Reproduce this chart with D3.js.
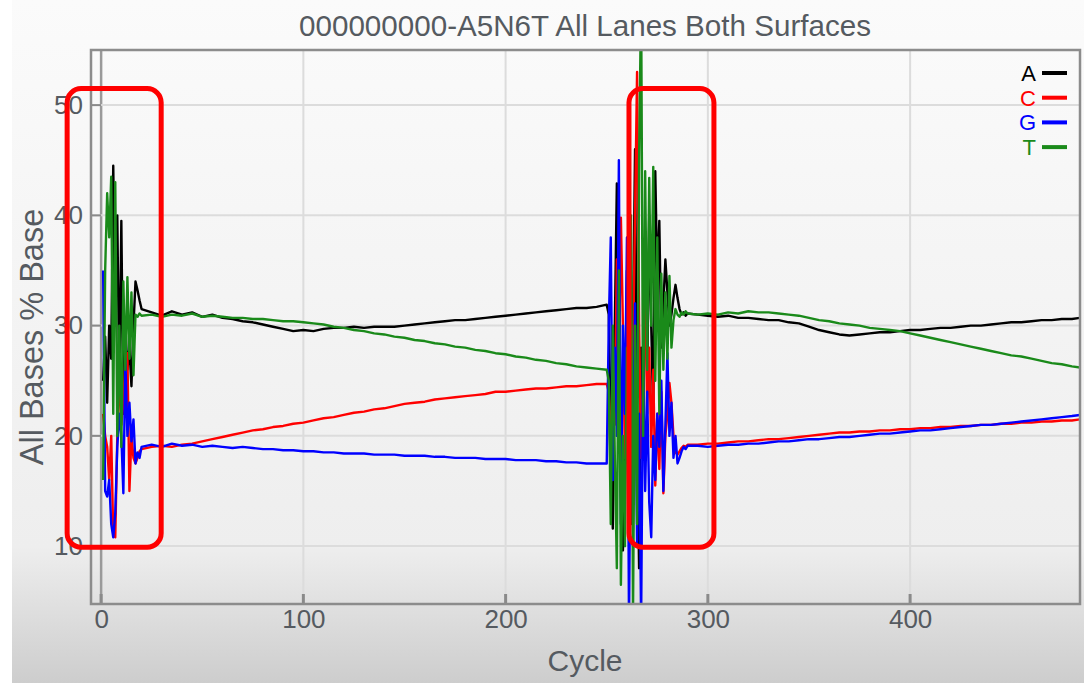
<!DOCTYPE html>
<html>
<head>
<meta charset="utf-8">
<script src="https://cdn.jsdelivr.net/npm/d3@7"></script>
<style>
  html, body { margin: 0; padding: 0; background: #fff; }
  svg { display: block; }
</style>
</head>
<body>
<div id="chart"></div>
<script>
// cycles: 1-20 every cycle, 25-250 every 5, 251-290 every cycle, 295-480 every 5, then 484
const cycles = [].concat(
    d3.range(1, 21),
    d3.range(25, 251, 5),
    d3.range(251, 291),
    d3.range(295, 481, 5),
    [484]
);

const baseA = [
    25, 29, 23, 30, 27, 44.5, 30, 40, 24, 39.5, 22, 30, 26, 28, 24.5, 30, 34, 33.2, 32.3, 31.5,
    31.2, 30.9, 31.3, 31.0, 31.2, 30.8, 31.0, 30.7, 30.6, 30.4, 30.3, 30.1, 29.9, 29.7, 29.5, 29.6,
    29.5, 29.7, 29.8, 29.8, 29.9, 29.8, 29.9, 29.9, 29.9, 30.0, 30.1, 30.2, 30.3, 30.4, 30.5, 30.5,
    30.6, 30.7, 30.8, 30.9, 31.0, 31.1, 31.2, 31.3, 31.4, 31.5, 31.6, 31.6, 31.7, 31.9,
    31, 20, 11.6, 30, 42.9, 25, 15, 9.6, 18, 35, 22, 12, 30, 46, 20, 8, 28, 20, 36, 25,
    40, 30, 22, 44, 34, 39.5, 28, 32, 36, 33, 30, 31, 32.5, 33.7, 32.5, 31.5, 31, 31.2, 30.9, 31.1,
    31.0, 30.9, 30.8, 30.9, 30.7, 30.7, 30.6, 30.5, 30.5, 30.3, 30.2, 29.9, 29.6, 29.4, 29.2, 29.1,
    29.2, 29.3, 29.4, 29.4, 29.5, 29.6, 29.6, 29.7, 29.8, 29.8, 29.9, 30.0, 30.0, 30.1, 30.2, 30.3,
    30.3, 30.4, 30.5, 30.5, 30.6, 30.6, 30.7
];

const baseC = [
    22, 20, 19, 16, 20, 11, 10.8, 20, 26, 21, 23, 27, 27.5, 15, 20, 18, 17.5, 18, 18.6, 18.8,
    19.0, 19.1, 19.0, 19.2, 19.3, 19.5, 19.7, 19.9, 20.1, 20.3, 20.5, 20.6, 20.8, 20.9, 21.1, 21.2,
    21.4, 21.6, 21.7, 21.9, 22.1, 22.2, 22.4, 22.5, 22.7, 22.9, 23.0, 23.1, 23.3, 23.4, 23.5, 23.6,
    23.7, 23.8, 24.0, 24.0, 24.1, 24.2, 24.3, 24.3, 24.4, 24.5, 24.5, 24.6, 24.7, 24.7,
    24, 17, 28, 21, 36, 26, 39.8, 30, 18, 24, 35, 20, 28, 40, 53, 30, 18, 25, 35, 22,
    28, 19, 26, 15.5, 22, 17, 24, 14.8, 20, 22, 24.8, 23, 20, 18.5, 18.3, 18.6, 18.9, 19.1, 19.0, 19.2,
    19.2, 19.3, 19.3, 19.4, 19.5, 19.5, 19.6, 19.7, 19.7, 19.8, 19.9, 20.0, 20.1, 20.2, 20.3, 20.3,
    20.4, 20.4, 20.5, 20.5, 20.6, 20.6, 20.7, 20.7, 20.8, 20.8, 20.9, 20.9, 21.0, 21.0, 21.1, 21.1,
    21.2, 21.2, 21.3, 21.3, 21.4, 21.4, 21.5
];

const baseG = [
    35, 15, 14.5, 16, 12, 10.8, 13, 19, 22, 20, 14.8, 27, 20, 23, 19.5, 21.5, 17.5, 18.5, 18, 19,
    19.2, 19.0, 19.3, 19.1, 19.2, 19.0, 19.1, 19.0, 18.9, 19.0, 18.9, 18.8, 18.8, 18.7, 18.7, 18.6,
    18.6, 18.5, 18.5, 18.4, 18.4, 18.4, 18.3, 18.3, 18.3, 18.2, 18.2, 18.2, 18.1, 18.1, 18.0, 18.0,
    18.0, 17.9, 17.9, 17.9, 17.8, 17.8, 17.8, 17.7, 17.7, 17.6, 17.6, 17.5, 17.5, 17.5,
    30, 38, 16, 28, 20, 45, 12, 30, 22, 38, 3, 25, 18, 32, 10, 22, 3, 28, 15, 24,
    14, 10.8, 20, 16, 22, 19, 25, 15, 21, 27.5, 20, 23, 18, 20, 17.5, 18, 18.6, 19, 18.8, 19.1,
    19.1, 19.0, 19.1, 19.2, 19.2, 19.3, 19.3, 19.4, 19.5, 19.5, 19.6, 19.7, 19.7, 19.8, 19.9, 19.9,
    20.0, 20.1, 20.2, 20.2, 20.3, 20.4, 20.5, 20.5, 20.6, 20.7, 20.8, 20.9, 21.0, 21.0, 21.1, 21.2,
    21.3, 21.4, 21.5, 21.6, 21.7, 21.8, 21.9
];

const baseT = [
    16, 35, 42, 38, 43.5, 22, 43, 20, 30, 19, 34, 26, 34.4, 27, 33, 25.5, 31, 30.8, 31.1, 30.9,
    31.0, 30.8, 31.0, 30.9, 31.1, 30.8, 30.9, 30.8, 30.7, 30.7, 30.6, 30.6, 30.5, 30.4, 30.4, 30.3,
    30.2, 30.1, 29.9, 29.8, 29.6, 29.5, 29.3, 29.2, 29.0, 28.9, 28.7, 28.6, 28.4, 28.3, 28.1, 28.0,
    27.8, 27.7, 27.5, 27.4, 27.2, 27.1, 26.9, 26.8, 26.6, 26.5, 26.3, 26.2, 26.1, 26.0,
    25, 12, 30, 18, 8, 35, 6.5, 20, 10, 28, 15, 40, 4, 30, 12, 45, 60, 20, 44, 26,
    43.4, 30, 44.4, 25, 38, 22, 34.7, 26, 33, 27, 34.5, 28, 30.5, 31.5, 31, 30.8, 31.2, 31, 31.3, 31.1,
    31.0, 31.1, 31.0, 31.2, 31.1, 31.3, 31.2, 31.2, 31.1, 31.0, 30.9, 30.7, 30.5, 30.4, 30.2, 30.1,
    30.0, 29.8, 29.7, 29.6, 29.5, 29.3, 29.1, 28.9, 28.7, 28.5, 28.3, 28.1, 27.9, 27.7, 27.5, 27.3,
    27.2, 27.0, 26.8, 26.6, 26.5, 26.3, 26.2
];

const seriesNames = ['A', 'C', 'G', 'T'];
const seriesColors = ['#000000', '#ff0000', '#0000ff', '#1a8a1a'];
const seriesValues = [baseA, baseC, baseG, baseT];

const xTicks = [0, 100, 200, 300, 400];
const yTicks = [10, 20, 30, 40, 50];

// highlighted regions drawn over the chart (cycle range, % range)
const highlightCycles = [[-16.8, 29.7], [261, 303]];
const highlightPercent = [9.9, 51.5];

const chartTitle = '000000000-A5N6T All Lanes Both Surfaces';

const WIDTH = 1084, HEIGHT = 683;
const PLOT = {left: 91, right: 1080, top: 50, bottom: 604};
const FONT = '"Liberation Sans", Arial, sans-serif';
const TEXT_COLOR = '#555a60';

const svg = d3.select('#chart').append('svg')
    .attr('width', WIDTH)
    .attr('height', HEIGHT)
    .style('font-family', FONT);

const defs = svg.append('defs');
const bg = defs.append('linearGradient')
    .attr('id', 'bg-grad')
    .attr('x1', 0).attr('y1', 0).attr('x2', 0).attr('y2', 1);
bg.append('stop').attr('offset', '0%').attr('stop-color', '#fbfbfb');
bg.append('stop').attr('offset', '80%').attr('stop-color', '#eeeeee');
bg.append('stop').attr('offset', '100%').attr('stop-color', '#cdcdcd');

defs.append('clipPath').attr('id', 'plot-clip')
    .append('rect')
    .attr('x', PLOT.left).attr('y', PLOT.top)
    .attr('width', PLOT.right - PLOT.left)
    .attr('height', PLOT.bottom - PLOT.top);

svg.append('rect')
    .attr('x', 12).attr('y', 0)
    .attr('width', WIDTH - 12).attr('height', HEIGHT)
    .attr('fill', 'url(#bg-grad)');

const x = d3.scaleLinear().domain([-5, 484]).range([PLOT.left, PLOT.right]);
const y = d3.scaleLinear().domain([4.75, 55]).range([PLOT.bottom, PLOT.top]);

// grid
const grid = svg.append('g');
grid.selectAll('line.gx')
    .data(xTicks)
    .join('line')
    .attr('class', 'gx')
    .attr('x1', d => x(d)).attr('x2', d => x(d))
    .attr('y1', PLOT.top).attr('y2', PLOT.bottom)
    .attr('stroke', d => d === 0 ? '#9a9a9a' : '#dcdcdc')
    .attr('stroke-width', d => d === 0 ? 2.5 : 2);
grid.selectAll('line.gy')
    .data(yTicks)
    .join('line')
    .attr('class', 'gy')
    .attr('x1', PLOT.left).attr('x2', PLOT.right)
    .attr('y1', d => y(d)).attr('y2', d => y(d))
    .attr('stroke', '#dcdcdc')
    .attr('stroke-width', 2);

// small tick marks inside the frame
grid.selectAll('line.tx')
    .data(xTicks)
    .join('line')
    .attr('class', 'tx')
    .attr('x1', d => x(d)).attr('x2', d => x(d))
    .attr('y1', PLOT.bottom - 10).attr('y2', PLOT.bottom)
    .attr('stroke', '#8a8a8a')
    .attr('stroke-width', 3);
grid.selectAll('line.ty')
    .data(yTicks)
    .join('line')
    .attr('class', 'ty')
    .attr('x1', PLOT.left).attr('x2', x(0))
    .attr('y1', d => y(d)).attr('y2', d => y(d))
    .attr('stroke', '#8a8a8a')
    .attr('stroke-width', 2);

// series lines
const line = d3.line()
    .x((d, i) => x(cycles[i]))
    .y(d => y(d));

svg.append('g')
    .attr('clip-path', 'url(#plot-clip)')
    .attr('fill', 'none')
    .attr('stroke-linejoin', 'round')
    .selectAll('path')
    .data(seriesValues)
    .join('path')
    .attr('stroke', (d, i) => seriesColors[i])
    .attr('stroke-width', 2.4)
    .attr('d', line);

// frame
svg.append('rect')
    .attr('x', PLOT.left).attr('y', PLOT.top)
    .attr('width', PLOT.right - PLOT.left)
    .attr('height', PLOT.bottom - PLOT.top)
    .attr('fill', 'none')
    .attr('stroke', '#8c8c8c')
    .attr('stroke-width', 2.5);

// axes labels
const axisX = d3.axisBottom(x).tickValues(xTicks).tickSize(0).tickPadding(6);
const gx = svg.append('g')
    .attr('transform', `translate(0,${PLOT.bottom})`)
    .call(axisX);
gx.select('.domain').remove();
gx.selectAll('text')
    .attr('font-size', 26)
    .attr('font-family', FONT)
    .attr('fill', TEXT_COLOR);

const axisY = d3.axisLeft(y).tickValues(yTicks).tickSize(0).tickPadding(4);
const gy = svg.append('g')
    .attr('transform', `translate(${PLOT.left - 4},0)`)
    .call(axisY);
gy.select('.domain').remove();
gy.selectAll('text')
    .attr('font-size', 26)
    .attr('font-family', FONT)
    .attr('fill', TEXT_COLOR);

svg.append('text')
    .attr('x', 585).attr('y', 36)
    .attr('text-anchor', 'middle')
    .attr('font-size', 29.6)
    .attr('fill', TEXT_COLOR)
    .text(chartTitle);

svg.append('text')
    .attr('x', 585).attr('y', 671)
    .attr('text-anchor', 'middle')
    .attr('font-size', 30)
    .attr('fill', TEXT_COLOR)
    .text('Cycle');

svg.append('text')
    .attr('transform', 'translate(43,337) rotate(-90)')
    .attr('text-anchor', 'middle')
    .attr('font-size', 32.5)
    .attr('fill', TEXT_COLOR)
    .text('All Bases % Base');

// legend
const legend = svg.append('g')
    .selectAll('g')
    .data(seriesNames)
    .join('g')
    .attr('transform', (d, i) => `translate(1036,${73 + i * 24.7})`);
legend.append('text')
    .attr('text-anchor', 'end')
    .attr('dy', '0.36em')
    .attr('font-size', 22)
    .attr('fill', (d, i) => seriesColors[i])
    .text(d => d);
legend.append('line')
    .attr('x1', 6).attr('x2', 31)
    .attr('stroke', (d, i) => seriesColors[i])
    .attr('stroke-width', 4);

// red highlight boxes
svg.append('g')
    .selectAll('rect')
    .data(highlightCycles)
    .join('rect')
    .attr('x', d => x(d[0]))
    .attr('y', y(highlightPercent[1]))
    .attr('width', d => x(d[1]) - x(d[0]))
    .attr('height', y(highlightPercent[0]) - y(highlightPercent[1]))
    .attr('rx', 14)
    .attr('fill', 'none')
    .attr('stroke', '#ff0000')
    .attr('stroke-width', 5);
</script>
</body>
</html>
